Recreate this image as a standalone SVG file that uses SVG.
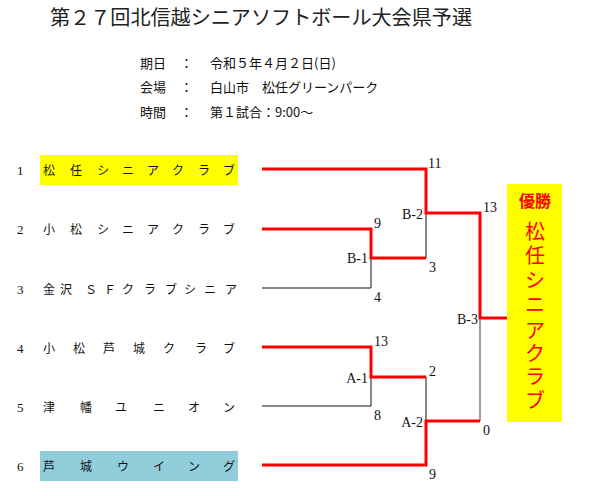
<svg xmlns="http://www.w3.org/2000/svg" width="600" height="496" viewBox="0 0 600 496">
<style>
.jp{font-family:"Noto Sans CJK JP","Noto Sans",sans-serif;fill:#111}
.title{font-size:20px;fill:#222}
.info{font-size:13px}
.team{font-size:12px}
.num{font-family:"Liberation Serif",serif;font-size:13px;fill:#111}
.sc{font-family:"Liberation Serif",serif;font-size:14px;fill:#111}
.end{text-anchor:end}
.red{stroke:#FF0000;stroke-width:3;fill:none}
.blk{stroke:#111;stroke-width:1;fill:none}
.gry{stroke:#808080;stroke-width:1.5;fill:none}
.win{font-family:"Noto Sans CJK JP",sans-serif;fill:#FF0000;text-anchor:middle}
</style>
<rect width="600" height="496" fill="#fff"/>
<g id="header">
<text class="jp title" x="50" y="25" textLength="422" lengthAdjust="spacingAndGlyphs">第２７回北信越シニアソフトボール大会県予選</text>
<text class="jp info" x="140" y="68">期日</text><text class="jp info" x="180" y="68">：</text><text class="jp info" x="210" y="68">令和５年４月２日(日)</text>
<text class="jp info" x="140" y="92">会場</text><text class="jp info" x="180" y="92">：</text><text class="jp info" x="210" y="92">白山市　松任グリーンパーク</text>
<text class="jp info" x="140" y="117">時間</text><text class="jp info" x="180" y="117">：</text><text class="jp info" x="210" y="117">第１試合：9:00～</text>
</g>
<g id="team1">
<rect x="40" y="155" width="198" height="30" fill="#FFFF00"/>
<text class="num" x="17" y="175">1</text>
<text class="jp team" x="43 70 97 122 147 172 198 223" y="175">松任シニアクラブ</text>
</g>
<g id="team2">
<text class="num" x="17" y="234">2</text>
<text class="jp team" x="43 70 97 122 147 172 198 223" y="234">小松シニアクラブ</text>
</g>
<g id="team3">
<text class="num" x="17" y="294">3</text>
<text class="jp team" x="43 60 85 104 122 144 165 184 204 225" y="294">金沢ＳＦクラブシニア</text>
</g>
<g id="team4">
<text class="num" x="17" y="353">4</text>
<text class="jp team" x="43 73 103 133 163 195 223" y="353">小松芦城クラブ</text>
</g>
<g id="team5">
<text class="num" x="17" y="412">5</text>
<text class="jp team" x="43 80 115 153 188 223" y="412">津幡ユニオン</text>
</g>
<g id="team6">
<rect x="40" y="451" width="198" height="30" fill="#92CDDC"/>
<text class="num" x="17" y="471">6</text>
<text class="jp team" x="43 80 117 153 188 223" y="471">芦城ウイング</text>
</g>
<g id="connectors">
<polyline class="blk" points="262,288 371,288 371,258"/>
<polyline class="blk" points="426,213 426,258"/>
<polyline class="blk" points="262,406 371,406 371,377"/>
<polyline class="blk" points="426,377 426,421"/>
<polyline class="gry" points="480,318 480,421"/>
<polyline class="red" points="262,169 426,169 426,213 480,213 480,318 507,318"/>
<polyline class="red" points="262,229 371,229 371,258 426,258"/>
<polyline class="red" points="262,347 371,347 371,377 426,377"/>
<polyline class="red" points="262,465 426,465 426,421 480,421"/>
</g>
<g id="matchB1">
<text class="sc end" x="368" y="263">B-1</text>
<text class="sc" x="374" y="228">9</text>
<text class="sc" x="374" y="302">4</text>
</g>
<g id="matchB2">
<text class="sc end" x="423" y="219">B-2</text>
<text class="sc" x="428" y="168">11</text>
<text class="sc" x="429" y="272">3</text>
</g>
<g id="matchA1">
<text class="sc end" x="368" y="383">A-1</text>
<text class="sc" x="374" y="346">13</text>
<text class="sc" x="374" y="420">8</text>
</g>
<g id="matchA2">
<text class="sc end" x="423" y="427">A-2</text>
<text class="sc" x="429" y="376">2</text>
<text class="sc" x="429" y="479">9</text>
</g>
<g id="matchB3">
<text class="sc end" x="478" y="324">B-3</text>
<text class="sc" x="483" y="212">13</text>
<text class="sc" x="483" y="435">0</text>
</g>
<g id="winner">
<rect x="507" y="184" width="55" height="238" fill="#FFFF00"/>
<text class="win" x="535" y="207" font-size="16" font-weight="bold">優勝</text>
<text class="win" font-size="20" x="535 535 535 535 535 535 535 535" y="239 263 288 312 338 361 384 408">松任シニアクラブ</text>
</g>
</svg>
